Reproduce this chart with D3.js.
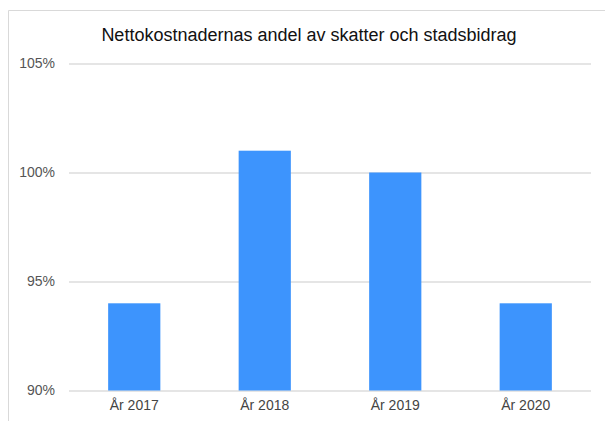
<!DOCTYPE html>
<html><head><meta charset="utf-8">
<script src="https://cdn.jsdelivr.net/npm/d3@7"></script>
<style>body{margin:0;background:#fff}svg{display:block}</style>
</head><body>
<svg id="chart" width="605" height="421"></svg>
<script>
const title = "Nettokostnadernas andel av skatter och stadsbidrag";
const categories = ["År 2017", "År 2018", "År 2019", "År 2020"];
const values = [94, 101, 100, 94];
const yTicks = [90, 95, 100, 105];

const svg = d3.select("#chart");
const W = 605, H = 421;
const m = {left: 69, right: 14, top: 63.5, bottom: 30.5};

// card border
svg.append("path").attr("d", `M8.5,${H} V10.5 H${W}`).attr("fill","none").attr("stroke","#d9d9d9").attr("stroke-width",1);

const x = d3.scaleBand().domain(categories).range([m.left, W - m.right]).paddingInner(0.6).paddingOuter(0.3);
const y = d3.scaleLinear().domain([90, 105]).range([H - m.bottom, m.top]);

svg.append("text").attr("x", 309).attr("y", 41).attr("text-anchor","middle")
  .attr("font-family","Liberation Sans, Arial, sans-serif").attr("font-size",18).attr("fill","#111").text(title);

const gy = svg.append("g").attr("transform",`translate(${m.left},0)`)
  .call(d3.axisLeft(y).tickValues(yTicks).tickSize(-(W - m.left - m.right)).tickPadding(14).tickFormat(d => d + "%"));
gy.select(".domain").remove();
gy.selectAll(".tick line").attr("stroke","#dcdcdc").attr("stroke-width",1.5);
gy.selectAll(".tick text").attr("font-family","Liberation Sans, Arial, sans-serif").attr("font-size",14).attr("fill","#555");

svg.append("g").selectAll("rect").data(values).join("rect")
  .attr("x",(d,i)=>x(categories[i])).attr("width",x.bandwidth())
  .attr("y",d=>y(d)).attr("height",d=>y(90)-y(d))
  .attr("fill","#3d94fd");

const gx = svg.append("g").attr("transform",`translate(0,${H - m.bottom})`)
  .call(d3.axisBottom(x).tickSize(0).tickPadding(10));
gx.select(".domain").remove();
gx.selectAll(".tick text").attr("font-family","Liberation Sans, Arial, sans-serif").attr("font-size",14).attr("fill","#444");
</script>
</body></html>
